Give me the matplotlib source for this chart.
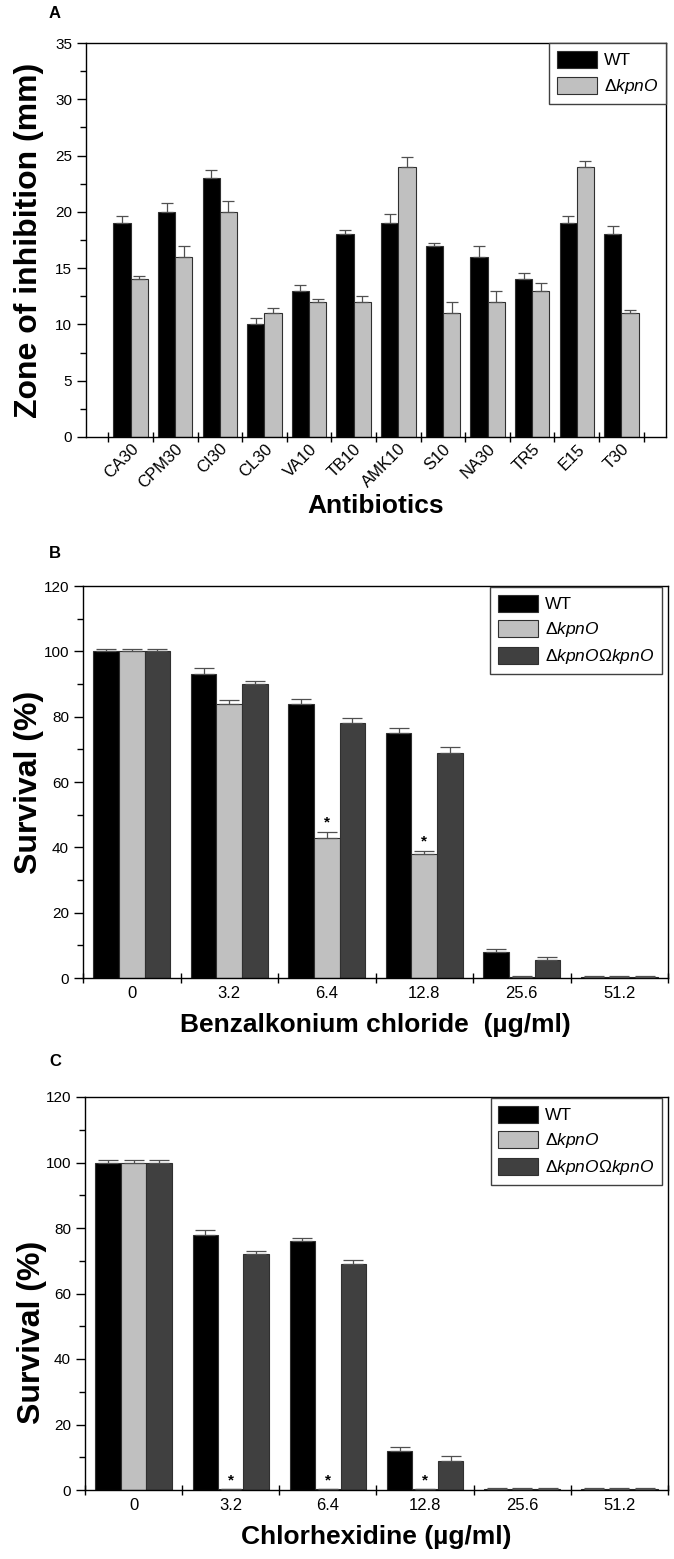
import numpy as np
import matplotlib

matplotlib.use("Agg")
import matplotlib.pyplot as plt
import matplotlib.transforms as mtransforms
from matplotlib.patches import Patch
from matplotlib.ticker import MultipleLocator, FixedLocator, NullFormatter

plt.rcParams["font.family"] = ["Liberation Sans", "DejaVu Sans"]
plt.rcParams["mathtext.fontset"] = "custom"
plt.rcParams["mathtext.rm"] = "Liberation Sans"
plt.rcParams["mathtext.it"] = "Liberation Sans:italic"

# ---- panel A: zone of inhibition (mm)
antibiotics = ["CA30", "CPM30", "CI30", "CL30", "VA10", "TB10",
               "AMK10", "S10", "NA30", "TR5", "E15", "T30"]
zone_wt = [19, 20, 23, 10, 13, 18, 19, 17, 16, 14, 19, 18]
zone_wt_err = [0.6, 0.8, 0.7, 0.6, 0.5, 0.4, 0.8, 0.2, 1.0, 0.6, 0.6, 0.7]
zone_ko = [14, 16, 20, 11, 12, 12, 24, 11, 12, 13, 24, 11]
zone_ko_err = [0.3, 1.0, 1.0, 0.5, 0.3, 0.5, 0.9, 1.0, 1.0, 0.7, 0.5, 0.3]

# ---- panels B/C: survival (%)
conc = ["0", "3.2", "6.4", "12.8", "25.6", "51.2"]

bzk_wt = [100, 93, 84, 75, 8, 0.3]
bzk_wt_err = [0.8, 1.8, 1.5, 1.4, 1.0, 0.2]
bzk_ko = [100, 84, 43, 38, 0.4, 0.3]
bzk_ko_err = [0.8, 1.0, 1.8, 1.0, 0.3, 0.2]
bzk_comp = [100, 90, 78, 69, 5.5, 0.3]
bzk_comp_err = [0.8, 1.0, 1.7, 1.6, 0.8, 0.2]
bzk_sig = [False, False, True, True, False, False]

chx_wt = [100, 78, 76, 12, 0.3, 0.3]
chx_wt_err = [0.8, 1.3, 1.0, 1.0, 0.2, 0.2]
chx_ko = [100, 0.2, 0.2, 0.2, 0.3, 0.3]
chx_ko_err = [0.8, 0.1, 0.1, 0.1, 0.2, 0.2]
chx_comp = [100, 72, 69, 9, 0.3, 0.3]
chx_comp_err = [0.8, 0.9, 1.2, 1.3, 0.2, 0.2]
chx_sig = [False, True, True, True, False, False]

C_WT, C_KO, C_COMP = "#000000", "#c0c0c0", "#404040"
LBL_WT = "WT"
LBL_KO = r"$\Delta\mathit{kpnO}$"
LBL_COMP = r"$\Delta\mathit{kpnO}\Omega\mathit{kpnO}$"

W, H = 674, 1559
fig = plt.figure(figsize=(W / 100, H / 100), dpi=100)


def px_axes(left, right, top, bottom):
    return fig.add_axes([left / W, 1 - bottom / H, (right - left) / W, (bottom - top) / H])


def draw_bars(ax, x, vals, errs, width, color, capsize):
    ax.bar(x, vals, width, color=color, edgecolor="#303030", linewidth=0.8, zorder=2,
           yerr=[np.zeros(len(errs)), errs],
           error_kw=dict(ecolor="#505050", elinewidth=0.9, capsize=capsize, capthick=0.9, zorder=3))


def style_axes(ax, n, ymax, ystep, ylabel, xlabel, labels):
    ax.set_xlim(-0.5, n - 0.5)
    ax.set_ylim(0, ymax)
    ax.yaxis.set_major_locator(MultipleLocator(ystep))
    ax.yaxis.set_minor_locator(MultipleLocator(ystep / 2))
    ax.tick_params(axis="y", which="major", direction="out", length=6.5, width=1, labelsize=11)
    ax.tick_params(axis="y", which="minor", direction="out", length=4.3, width=1)
    ax.xaxis.set_major_locator(FixedLocator(np.arange(n + 1) - 0.5))
    ax.xaxis.set_major_formatter(NullFormatter())
    ax.xaxis.set_minor_locator(FixedLocator(np.arange(n)))
    ax.set_xticklabels(labels, minor=True)
    ax.tick_params(axis="x", which="major", direction="inout", length=7, width=1)
    ax.tick_params(axis="x", which="minor", length=0, pad=6, labelsize=12)
    for s in ax.spines.values():
        s.set_linewidth(1.0)
    ax.set_ylabel(ylabel, fontsize=23, fontweight="bold")
    ax.set_xlabel(xlabel, fontsize=19, fontweight="bold")


# ---------------- A
axA = px_axes(86, 666, 43, 437)
x = np.arange(len(antibiotics))
wa = 0.387
draw_bars(axA, x - wa / 2, zone_wt, zone_wt_err, wa, C_WT, 4.5)
draw_bars(axA, x + wa / 2, zone_ko, zone_ko_err, wa, C_KO, 4.5)
style_axes(axA, len(antibiotics), 35, 5, "Zone of inhibition (mm)", "Antibiotics", antibiotics)
axA.set_xlim(-1, 12)
shift = mtransforms.ScaledTranslation(6 / 100, 0, fig.dpi_scale_trans)
for t in axA.get_xticklabels(minor=True):
    t.set_rotation(45)
    t.set_ha("right")
    t.set_va("top")
    t.set_rotation_mode("anchor")
    t.set_transform(t.get_transform() + shift)
axA.tick_params(axis="x", which="minor", pad=3)
axA.yaxis.set_label_coords(-0.072, 0.5)
axA.xaxis.set_label_coords(0.5, -0.145)
axA.legend(handles=[Patch(facecolor=C_WT, edgecolor="#303030", lw=0.8, label=LBL_WT),
                    Patch(facecolor=C_KO, edgecolor="#303030", lw=0.8, label=LBL_KO)],
           loc="upper right", bbox_to_anchor=(1.0, 1.0), borderaxespad=0, fontsize=12.5,
           frameon=True, fancybox=False, edgecolor="#404040", framealpha=1,
           handlelength=2.3, handleheight=1.15, labelspacing=0.5, handletextpad=0.4,
           borderpad=0.45)


# ---------------- B / C
def survival_panel(ax, wt, wt_e, ko, ko_e, comp, comp_e, sig, xlabel, ylab_y):
    xs = np.arange(len(conc))
    wb = 0.262
    draw_bars(ax, xs - wb, wt, wt_e, wb, C_WT, 7.5)
    draw_bars(ax, xs, ko, ko_e, wb, C_KO, 7.5)
    draw_bars(ax, xs + wb, comp, comp_e, wb, C_COMP, 7.5)
    for i, s in enumerate(sig):
        if s:
            ax.text(xs[i], ko[i] + ko_e[i] + 0.6, "*", ha="center", va="bottom",
                    fontsize=11, fontweight="bold")
    style_axes(ax, len(conc), 120, 20, "Survival (%)", xlabel, conc)
    ax.yaxis.set_label_coords(-0.066, ylab_y)
    ax.xaxis.set_label_coords(0.5, -0.09)
    ax.legend(handles=[Patch(facecolor=C_WT, edgecolor="#303030", lw=0.8, label=LBL_WT),
                       Patch(facecolor=C_KO, edgecolor="#303030", lw=0.8, label=LBL_KO),
                       Patch(facecolor=C_COMP, edgecolor="#303030", lw=0.8, label=LBL_COMP)],
              loc="upper right", bbox_to_anchor=(0.99, 0.997), borderaxespad=0, fontsize=12.5,
              frameon=True, fancybox=False, edgecolor="#404040", framealpha=1,
              handlelength=2.3, handleheight=1.1, labelspacing=0.45, handletextpad=0.4,
              borderpad=0.45)


axB = px_axes(83, 668, 586, 978)
survival_panel(axB, bzk_wt, bzk_wt_err, bzk_ko, bzk_ko_err, bzk_comp, bzk_comp_err,
               bzk_sig, "Benzalkonium chloride  (µg/ml)", 0.5)

axC = px_axes(85, 668, 1097, 1490)
survival_panel(axC, chx_wt, chx_wt_err, chx_ko, chx_ko_err, chx_comp, chx_comp_err,
               chx_sig, "Chlorhexidine (µg/ml)", 0.4)

for lbl, yy in (("A", 13), ("B", 553), ("C", 1062)):
    fig.text(55 / W, 1 - yy / H, lbl, ha="center", va="center", fontsize=12, fontweight="bold")

fig.savefig("out.png", dpi=100)
